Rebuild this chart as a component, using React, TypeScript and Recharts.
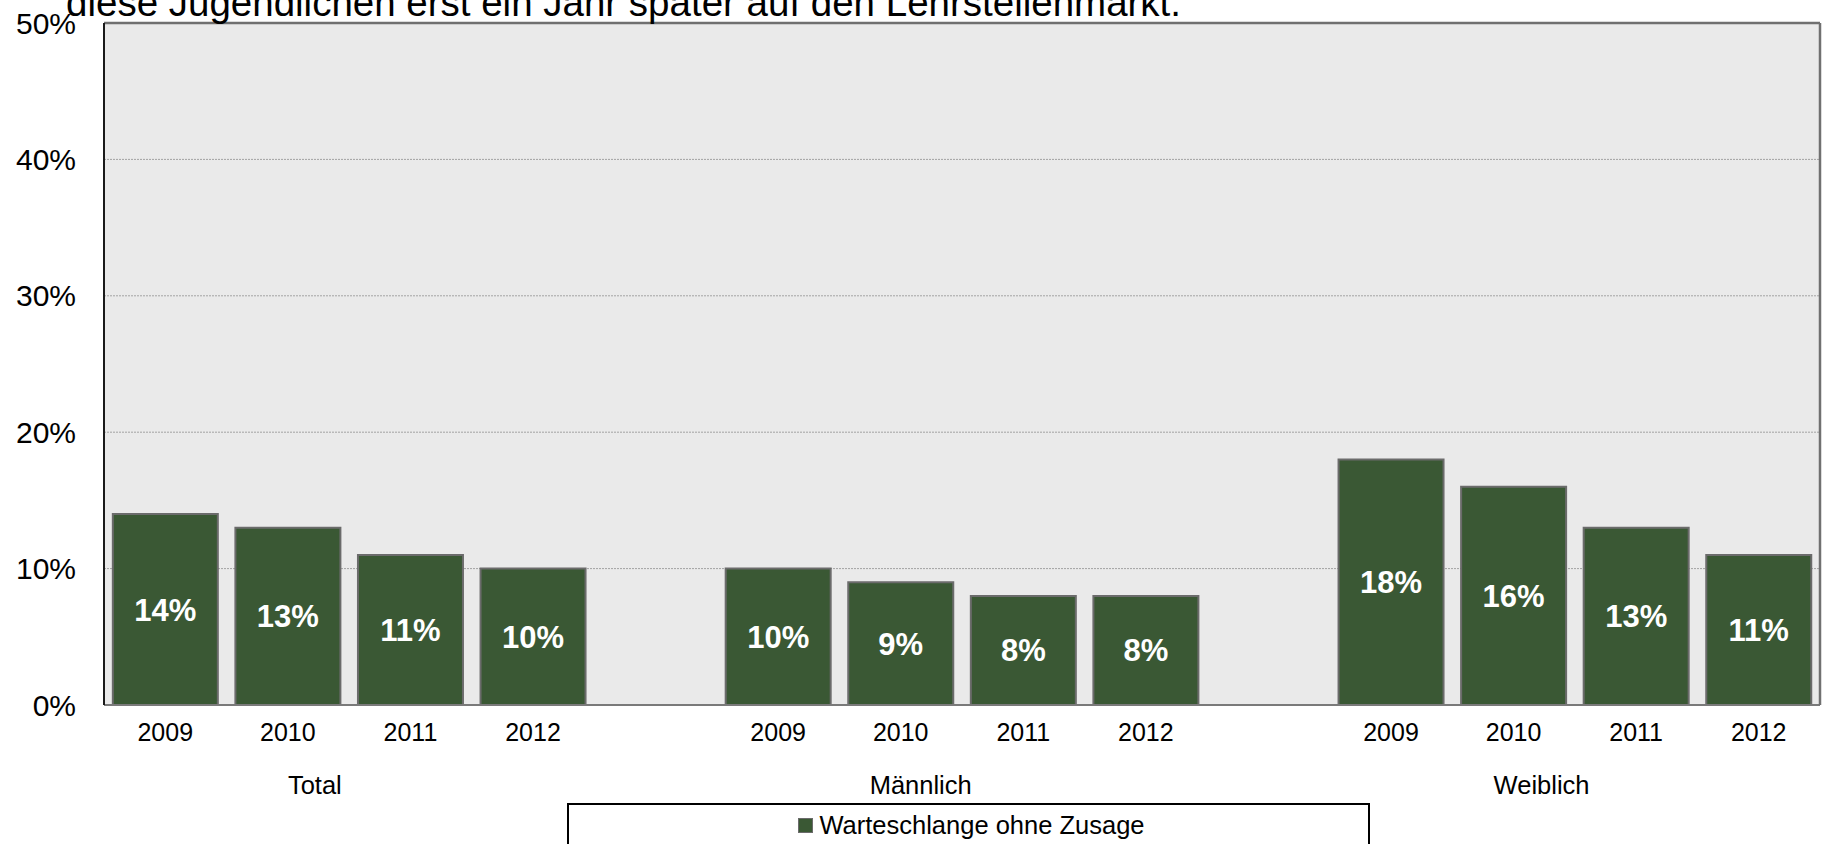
import React from 'react';
import { BarChart, Bar, XAxis, YAxis, ReferenceLine, CartesianGrid, LabelList, Legend } from 'recharts';

const YEARS = ['2009', '2010', '2011', '2012', '', '2009', '2010', '2011', '2012', '', '2009', '2010', '2011', '2012'];
const VALUES: (number | null)[] = [14, 13, 11, 10, null, 10, 9, 8, 8, null, 18, 16, 13, 11];
const GROUPS = ['', 'Total', '', '', '', '', 'Männlich', '', '', '', '', 'Weiblich', '', ''];
const Y_TICKS = [0, 10, 20, 30, 40, 50];
const SERIES_NAME = 'Warteschlange ohne Zusage';
const TITLE_TEXT = 'diese Jugendlichen erst ein Jahr später auf den Lehrstellenmarkt.';

const data = YEARS.map((year, i) => ({ year, group: GROUPS[i], value: VALUES[i] }));

const FONT = '"Liberation Sans", Arial, Helvetica, sans-serif';
const BAR_FILL = '#3a5834';
const BAR_STROKE = '#6b6b6b';

const GroupTick = (props: any) => {
  const { x, y, payload, index } = props;
  if (!payload || !payload.value) return null;
  const dx = index < 4 ? 27 : index < 9 ? 20 : 28;
  return (
    <text x={x + dx} y={y} dy="0.71em" textAnchor="middle" fontSize={25.5} fill="#000" fontFamily={FONT}>
      {payload.value}
    </text>
  );
};

const LegendBox = () => (
  <div
    style={{
      boxSizing: 'border-box',
      width: 803,
      height: 60,
      border: '2px solid #000',
      background: '#fff',
      display: 'flex',
      justifyContent: 'center',
      alignItems: 'flex-start',
      paddingTop: 6,
      fontFamily: FONT,
    }}
  >
    <div style={{ display: 'flex', alignItems: 'center', height: 29, marginLeft: 6 }}>
      <span
        style={{
          display: 'inline-block',
          boxSizing: 'border-box',
          width: 15,
          height: 15,
          background: BAR_FILL,
          border: `1px solid ${BAR_STROKE}`,
          marginRight: 6,
        }}
      />
      <span style={{ fontSize: 25.5, lineHeight: '29px', color: '#000' }}>{SERIES_NAME}</span>
    </div>
  </div>
);

export default function App() {
  return (
    <div
      style={{
        position: 'absolute',
        left: 0,
        top: 0,
        width: 1825,
        height: 844,
        overflow: 'hidden',
        background: '#fff',
        fontFamily: FONT,
      }}
    >
      <BarChart
        width={1825}
        height={844}
        data={data}
        margin={{ top: 23, right: 0, bottom: 0, left: 0 }}
        barCategoryGap="7.2%"
      >
        <CartesianGrid
          fill="#eaeaea"
          vertical={false}
          stroke="#a3a3a3"
          strokeDasharray="2 1"
          strokeWidth={1}
        />
        <XAxis
          dataKey="year"
          height={45}
          interval={0}
          tickSize={0}
          tickMargin={18}
          axisLine={{ stroke: '#7a7a7a', strokeWidth: 2 }}
          tickLine={false}
          tick={{ fontSize: 25, fill: '#000', fontFamily: FONT }}
        />
        <XAxis
          xAxisId="g"
          dataKey="group"
          height={94}
          interval={0}
          tickSize={0}
          tickMargin={26}
          axisLine={false}
          tickLine={false}
          tick={<GroupTick />}
        />
        <YAxis
          width={104}
          domain={[0, 50]}
          ticks={Y_TICKS}
          interval={0}
          tickSize={0}
          tickMargin={28}
          tickFormatter={(v: number) => `${v}%`}
          axisLine={{ stroke: '#1a1a1a', strokeWidth: 2 }}
          tickLine={false}
          tick={{ fontSize: 30, fill: '#000', fontFamily: FONT }}
        />
        <YAxis
          yAxisId="r"
          orientation="right"
          width={5}
          domain={[0, 50]}
          tick={false}
          tickLine={false}
          axisLine={{ stroke: '#707070', strokeWidth: 2.5 }}
        />
        <ReferenceLine y={50} stroke="#707070" strokeWidth={2.5} />
        <Bar
          dataKey="value"
          name={SERIES_NAME}
          fill={BAR_FILL}
          stroke={BAR_STROKE}
          strokeWidth={2}
          isAnimationActive={false}
        >
          <LabelList
            dataKey="value"
            position="center"
            fill="#fff"
            fontSize={31}
            fontWeight="bold"
            fontFamily={FONT}
            formatter={(v: any) => (v === null || v === undefined ? '' : `${v}%`)}
          />
        </Bar>
        <Legend
          layout="vertical"
          align="center"
          verticalAlign="middle"
          wrapperStyle={{ left: 567, top: 803, width: 803, height: 60 }}
          content={<LegendBox />}
        />
      </BarChart>
      <div
        style={{
          position: 'absolute',
          left: 66,
          top: -16,
          fontSize: 38.5,
          lineHeight: '38.5px',
          whiteSpace: 'nowrap',
          color: '#000',
          fontFamily: FONT,
        }}
      >
        {TITLE_TEXT}
      </div>
    </div>
  );
}
